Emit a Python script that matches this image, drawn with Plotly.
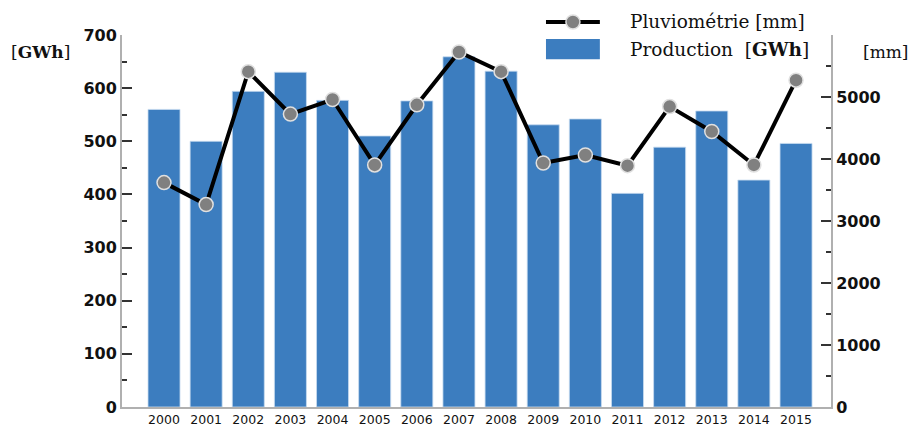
import plotly.graph_objects as go

years = ["2000", "2001", "2002", "2003", "2004", "2005", "2006", "2007",
         "2008", "2009", "2010", "2011", "2012", "2013", "2014", "2015"]
production_gwh = [560, 500, 594, 630, 577, 510, 576, 659,
                  632, 531, 542, 402, 489, 557, 427, 496]
pluviometrie_mm = [3619, 3265, 5409, 4724, 4959, 3904, 4874, 5726,
                   5409, 3936, 4065, 3893, 4846, 4444, 3904, 5271]

left_ticks = [0, 100, 200, 300, 400, 500, 600, 700]
right_ticks = [0, 1000, 2000, 3000, 4000, 5000, 6000]
right_ticktext = ["0", "1000", "2000", "3000", "4000", "5000", ""]

legend_labels = ["Pluviométrie [mm]", "Production  [<b>GWh</b>]"]

xpos = list(range(len(years)))

BAR = "#3c7dbf"
TICKFONT = dict(family="DejaVu Sans", size=16, color="#111111", weight="bold")
SERIF = "DejaVu Serif"
TXT = "#111111"

fig = go.Figure()
fig.add_trace(go.Bar(
    x=xpos, y=production_gwh, name=legend_labels[1], showlegend=False,
    marker=dict(color=BAR, line=dict(color="rgba(200,220,240,0.8)", width=1)),
    width=0.76, yaxis="y",
))
fig.add_trace(go.Scatter(
    x=xpos, y=pluviometrie_mm, name=legend_labels[0], yaxis="y2", showlegend=False,
    mode="lines+markers",
    line=dict(color="black", width=4),
    marker=dict(color="#808080", size=14, line=dict(color="#e0e0e0", width=1.5)),
))

# hand-made legend (wide symbols as in the reference)
shapes = [
    dict(type="line", xref="paper", yref="paper", x0=0.598, x1=0.674, y0=1.035, y1=1.035,
         line=dict(color="black", width=4), layer="above"),
    dict(type="circle", xref="paper", yref="paper", xsizemode="pixel", ysizemode="pixel",
         xanchor=0.636, yanchor=1.035, x0=-7, x1=7, y0=-7, y1=7,
         fillcolor="#808080", line=dict(color="#e0e0e0", width=1.5), layer="above"),
    dict(type="rect", xref="paper", yref="paper", x0=0.598, x1=0.674, y0=0.935, y1=0.989,
         fillcolor=BAR, line=dict(width=0), layer="above"),
]

fig.update_layout(
    width=909, height=428,
    margin=dict(l=122, r=78, t=35, b=21, autoexpand=False),
    paper_bgcolor="white", plot_bgcolor="white",
    showlegend=False,
    bargap=0.24,
    xaxis=dict(
        range=[-0.997, 15.83], tickmode="array", tickvals=xpos, ticktext=years,
        showgrid=False, zeroline=False, showline=True, linecolor="#b0b0b0",
        linewidth=1.5, ticks="", tickfont=dict(family="DejaVu Sans", size=12.5, color=TXT),
        layer="below traces", automargin=False,
    ),
    yaxis=dict(
        range=[0, 700], tickvals=left_ticks, showgrid=False, zeroline=False,
        showline=True, linecolor="#b0b0b0", linewidth=2,
        ticks="inside", ticklen=10, tickwidth=1.5, tickcolor="#333333",
        minor=dict(ticks="inside", ticklen=5, tickwidth=1.5, tickcolor="#333333", dtick=50, showgrid=False),
        tickfont=TICKFONT, automargin=False,
    ),
    yaxis2=dict(
        range=[0, 6000], overlaying="y", side="right", tickmode="array",
        tickvals=right_ticks, ticktext=right_ticktext,
        showgrid=False, zeroline=False,
        showline=True, linecolor="#b0b0b0", linewidth=2,
        ticks="inside", ticklen=10, tickwidth=1.5, tickcolor="#333333",
        minor=dict(ticks="inside", ticklen=5, tickwidth=1.5, tickcolor="#333333", dtick=500, showgrid=False),
        tickfont=TICKFONT, automargin=False,
    ),
    shapes=shapes,
    annotations=[
        dict(text="[<b>GWh</b>]", xref="paper", yref="paper", x=0, y=0.954,
             xanchor="right", yanchor="middle", xshift=-50, showarrow=False,
             font=dict(family=SERIF, size=17, color=TXT)),
        dict(text="[mm]", xref="paper", yref="paper", x=1, y=0.954,
             xanchor="left", yanchor="middle", xshift=30, showarrow=False,
             font=dict(family=SERIF, size=17, color=TXT)),
        dict(text=legend_labels[0], xref="paper", yref="paper", x=0.7137, y=1.035,
             xanchor="left", yanchor="middle", showarrow=False,
             font=dict(family=SERIF, size=18.5, color=TXT)),
        dict(text=legend_labels[1], xref="paper", yref="paper", x=0.7137, y=0.960,
             xanchor="left", yanchor="middle", showarrow=False,
             font=dict(family=SERIF, size=18.5, color=TXT)),
    ],
)

fig.write_html("out.html", config={"displayModeBar": False},
               post_script="document.body.style.margin='0';document.body.style.overflow='hidden';")
